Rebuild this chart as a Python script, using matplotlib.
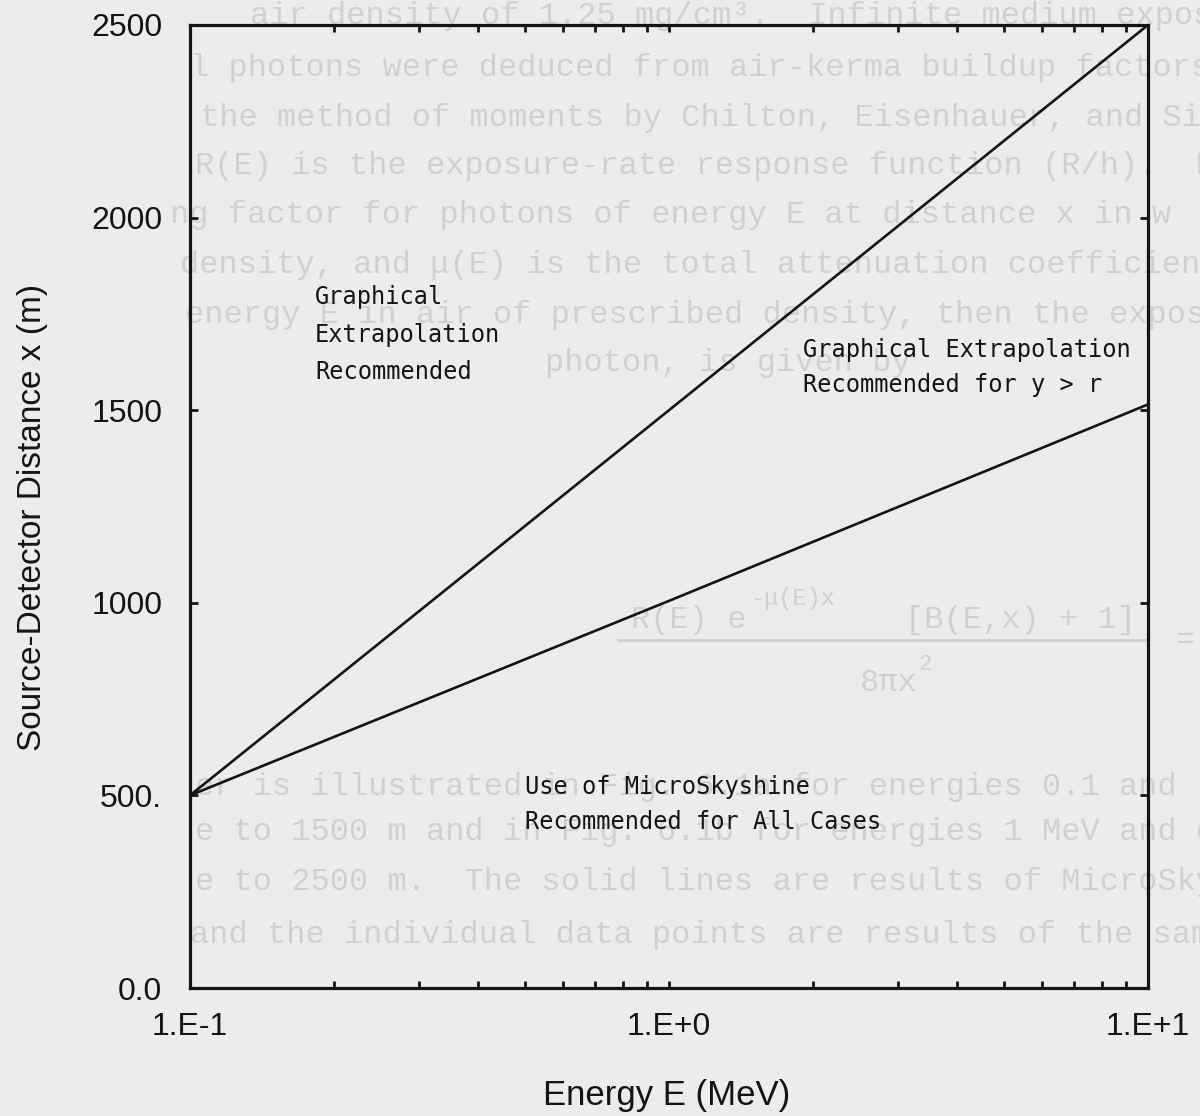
import matplotlib.pyplot as plt
from matplotlib.lines import Line2D

# =========================
# Data
# =========================
energy = [0.1, 1.0, 10.0]                 # MeV
upper_limit = [500, 1500, 2500]           # m
lower_limit = [500, 1005, 1515]           # m

y_ticks = [0, 500, 1000, 1500, 2000, 2500]
y_tick_labels = ["0.0", "500.", "1000", "1500", "2000", "2500"]
x_ticks = [0.1, 1.0, 10.0]
x_tick_labels = ["1.E-1", "1.E+0", "1.E+1"]
x_minor = [0.2, 0.3, 0.4, 0.5, 0.6, 0.7, 0.8, 0.9,
           2, 3, 4, 5, 6, 7, 8, 9]

label_upper_left = ["Graphical", "Extrapolation", "Recommended"]
label_right = ["Graphical Extrapolation", "Recommended for y > r"]
label_bottom = ["Use of MicroSkyshine", "Recommended for All Cases"]

# faint type from the page behind the plot
page_lines = [
    (250, 16, "air density of 1.25 mg/cm³.  Infinite medium exposure"),
    (190, 68, "l photons were deduced from air-kerma buildup factors"),
    (200, 118, "the method of moments by Chilton, Eisenhauer, and Si"),
    (195, 166, "R(E) is the exposure-rate response function (R/h).  B"),
    (170, 215, "ng factor for photons of energy E at distance x in w"),
    (180, 265, "density, and μ(E) is the total attenuation coefficient"),
    (185, 315, "energy E in air of prescribed density, then the exposure"),
    (545, 363, "photon, is given by"),
    (195, 787, "er is illustrated in Fig. 6.1a for energies 0.1 and"),
    (195, 832, "e to 1500 m and in Fig. 6.1b for energies 1 MeV and gr"),
    (195, 882, "e to 2500 m.  The solid lines are results of MicroSky"),
    (190, 935, "and the individual data points are results of the same"),
]

W, H = 1200, 1116
PAPER = "#ececec"
INK = "#141414"
GHOST = "#d0d0d0"
SANS = ["Liberation Sans", "DejaVu Sans"]
PLOTTER = ["DejaVu Sans Mono"]

fig = plt.figure(figsize=(W / 100, H / 100), dpi=100, facecolor=PAPER)


def px(x, y):
    return x / W, 1 - y / H


def ghost(x, y, s, size=23):
    fig.text(*px(x, y), s, family="Liberation Mono", fontsize=size,
             color=GHOST, va="center", ha="left", zorder=-1)


for x, y, s in page_lines:
    ghost(x, y, s)

# equation from the page behind
ghost(631, 620, "R(E) e")
ghost(750, 598, "-μ(E)x", 17)
ghost(905, 620, "[B(E,x) + 1]")
ghost(860, 683, "8πx")
ghost(918, 664, "2", 16)
ghost(1175, 640, "=")
fig.add_artist(Line2D([618 / W, 1145 / W], [1 - 640 / H, 1 - 640 / H],
                      color=GHOST, lw=2, zorder=-1))

# =========================
# Plot
# =========================
ax = fig.add_axes([190 / W, 1 - 988 / H, 958 / W, 963 / H])
ax.set_facecolor("none")

ax.plot(energy, upper_limit, color=INK, lw=1.9, solid_capstyle="round")
ax.plot(energy, lower_limit, color=INK, lw=1.9, solid_capstyle="round")

ax.set_xscale("log")
ax.set_xlim(0.1, 10)
ax.set_ylim(0, 2500)

ax.set_xticks(x_ticks)
ax.set_xticklabels(x_tick_labels)
ax.set_xticks(x_minor, minor=True)
ax.set_xticklabels([], minor=True)
ax.set_yticks(y_ticks)
ax.set_yticklabels(y_tick_labels)

ax.tick_params(axis="x", which="both", direction="in", top=True,
               length=5, width=2, color=INK, pad=17)
ax.tick_params(axis="y", which="both", direction="in", right=True,
               length=6, width=2, color=INK, pad=20)
for lab in ax.get_xticklabels() + ax.get_yticklabels():
    lab.set_family(SANS)
    lab.set_fontsize(23)
    lab.set_color(INK)

for sp in ax.spines.values():
    sp.set_linewidth(2.3)
    sp.set_color(INK)

# region notes
for lines, x0, y0, step in [(label_upper_left, 315, 297, 37.5),
                            (label_right, 803, 350, 35),
                            (label_bottom, 525, 787, 35)]:
    for i, s in enumerate(lines):
        fig.text(*px(x0, y0 + step * i), s, family=PLOTTER,
                 fontsize=17, color=INK, va="center", ha="left")

# axis titles
fig.text(*px(33, 517), "Source-Detector Distance x (m)", family=SANS,
         fontsize=24, color=INK, rotation=90, ha="center", va="center")
fig.text(*px(667, 1095), "Energy E (MeV)", family=SANS,
         fontsize=25, color=INK, ha="center", va="center")

fig.savefig("out.png", dpi=100, facecolor=PAPER)
plt.close()
